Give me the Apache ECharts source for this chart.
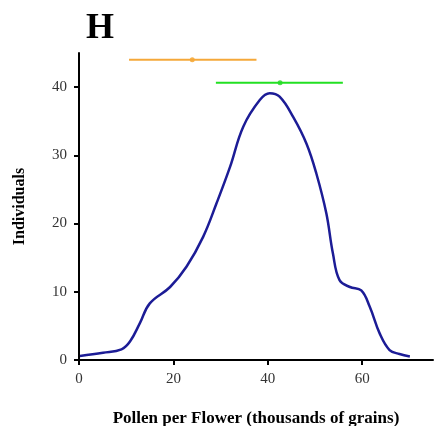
<!DOCTYPE html>
<html><head><meta charset="utf-8">
<script src="https://cdn.jsdelivr.net/npm/echarts@6/dist/echarts.min.js"></script>
<style>html,body{margin:0;padding:0;background:#fff}#c{width:435px;height:426px}</style>
</head><body><div id="c"></div>
<script>
const curveX = [0.2, 5.1, 9.0, 10.8, 12.9, 15.0, 19.3, 22.8, 26.3, 29.1, 32.0, 34.8, 38.3, 40.4, 42.5, 45.4, 48.2, 50.3, 52.4, 53.8, 55.2, 57.4, 59.8, 61.6, 63.7, 65.8, 67.9, 70.1];
const curveY = [0.6, 1.07, 1.56, 2.7, 5.4, 8.3, 10.7, 13.7, 18.05, 22.9, 28.3, 34.2, 38.1, 39.1, 38.6, 35.6, 31.7, 27.3, 21.5, 15.6, 11.7, 10.7, 10.2, 7.8, 3.9, 1.46, 0.88, 0.5];
const orangeBar = {low: 10.6, mean: 24.0, high: 37.6, level: 44.0};
const greenBar = {low: 29.0, mean: 42.6, high: 55.9, level: 40.65};
const xTicks = [0, 20, 40, 60];
const yTicks = [0, 10, 20, 30, 40];

const chart = echarts.init(document.getElementById('c'));
const serif = '"Liberation Serif", "DejaVu Serif", serif';
chart.setOption({
  animation: false,
  title: {text: 'H', left: 81, top: 6, textStyle: {fontFamily: serif, fontWeight: 'bold', fontSize: 36, color: '#000'}},
  grid: {left: 79, right: 2, top: 53, bottom: 66, outerBoundsMode: 'none', containLabel: false},
  xAxis: {
    type: 'value', min: 0, max: 75,
    name: 'Pollen per Flower (thousands of grains)', nameLocation: 'middle', nameGap: 50,
    nameTextStyle: {fontFamily: serif, fontWeight: 'bold', fontSize: 17, color: '#000'},
    axisLine: {lineStyle: {color: '#000', width: 2}},
    axisTick: {show: true, length: 5, lineStyle: {color: '#000', width: 2}, customValues: xTicks},
    axisLabel: {fontFamily: serif, fontSize: 15, color: '#333', margin: 12, customValues: xTicks},
    splitLine: {show: false}
  },
  yAxis: {
    type: 'value', min: 0, max: 45,
    name: 'Individuals', nameLocation: 'middle', nameGap: 51,
    nameTextStyle: {fontFamily: serif, fontWeight: 'bold', fontSize: 16, color: '#000'},
    axisLine: {show: true, lineStyle: {color: '#000', width: 2}},
    axisTick: {show: true, length: 5, lineStyle: {color: '#000', width: 2}, customValues: yTicks},
    axisLabel: {fontFamily: serif, fontSize: 15, color: '#333', margin: 12, customValues: yTicks},
    splitLine: {show: false}
  },
  series: [
    {type: 'line', data: curveX.map((x, i) => [x, curveY[i]]), smooth: 0.4, symbol: 'none',
     lineStyle: {color: '#1c1c96', width: 2.5}},
    {type: 'line', data: [[orangeBar.low, orangeBar.level], [orangeBar.high, orangeBar.level]], symbol: 'none',
     lineStyle: {color: '#f5a83a', width: 2}},
    {type: 'scatter', data: [[orangeBar.mean, orangeBar.level]], symbolSize: 5, itemStyle: {color: '#f5a020'}},
    {type: 'line', data: [[greenBar.low, greenBar.level], [greenBar.high, greenBar.level]], symbol: 'none',
     lineStyle: {color: '#22e022', width: 2}},
    {type: 'scatter', data: [[greenBar.mean, greenBar.level]], symbolSize: 5, itemStyle: {color: '#22d022'}}
  ]
});
</script></body></html>
